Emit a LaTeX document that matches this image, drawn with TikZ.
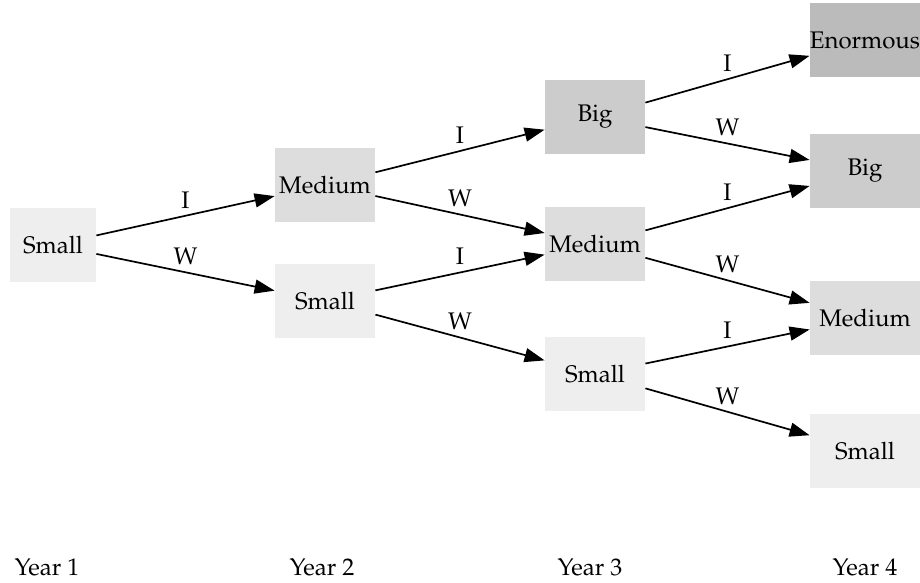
\documentclass[tikz,border=0pt]{standalone}
\usepackage[T1]{fontenc}
\usepackage{mathpazo}
\usetikzlibrary{arrows.meta}

\definecolor{cSmall}{HTML}{EEEEEE}
\definecolor{cMedium}{HTML}{DDDDDD}
\definecolor{cBig}{HTML}{CCCCCC}
\definecolor{cEnormous}{HTML}{BBBBBB}

\tikzset{
stage/.style={rectangle, inner sep=0pt, minimum width=50pt, minimum height=37pt},
trans/.style={-{Triangle[length=10pt,width=7pt]}, line width=0.85pt},
}

\begin{document}
\begin{tikzpicture}[x=0.5pt,y=-0.5pt,font=\fontsize{12}{14}\selectfont]%growth tree
\useasboundingbox (0,0) rectangle (920,583);
% year 1
\node[stage, fill=cSmall, minimum width=43pt] (s1) at (53,245) {Small};
% year 2
\node[stage, fill=cMedium] (m2) at (325,185) {Medium};
\node[stage, fill=cSmall] (s2) at (325,301) {Small};
% year 3
\node[stage, fill=cBig] (b3) at (595,117) {Big};
\node[stage, fill=cMedium] (m3) at (595,244) {Medium};
\node[stage, fill=cSmall] (s3) at (595,374) {Small};
% year 4
\node[stage, fill=cEnormous, minimum width=55pt] (e4) at (865,40) {Enormous};
\node[stage, fill=cBig, minimum width=55pt] (b4) at (865,171) {Big};
\node[stage, fill=cMedium, minimum width=55pt] (m4) at (865,318) {Medium};
\node[stage, fill=cSmall, minimum width=55pt] (s4) at (865,451) {Small};

\draw[trans] (s1) -- node[above] {I} (m2);
\draw[trans] (s1) -- node[above] {W} (s2);
\draw[trans] (m2) -- node[above] {I} (b3);
\draw[trans] (m2) -- node[above] {W} (m3);
\draw[trans] (s2) -- node[above] {I} (m3);
\draw[trans] (s2) -- node[above] {W} (s3);
\draw[trans] (b3) -- node[above] {I} (e4);
\draw[trans] (b3) -- node[above] {W} (b4);
\draw[trans] (m3) -- node[above] {I} (b4);
\draw[trans] (m3) -- node[above] {W} (m4);
\draw[trans] (s3) -- node[above] {I} (m4);
\draw[trans] (s3) -- node[above] {W} (s4);

\foreach \x/\n in {47/1,322/2,590/3,865/4}
  \node (y\n) at (\x,567) {Year \n};
\end{tikzpicture}
\end{document}
